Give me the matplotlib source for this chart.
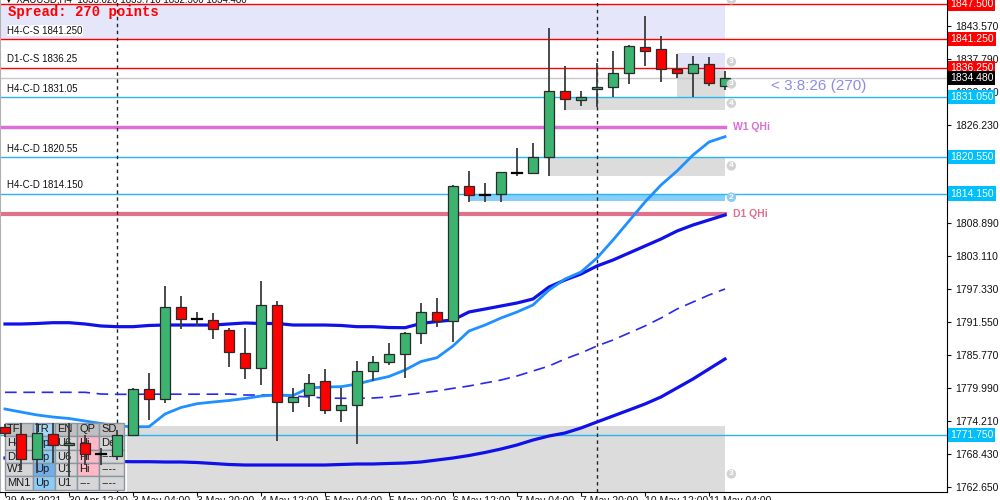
import matplotlib
matplotlib.use("Agg")
import matplotlib.pyplot as plt
from matplotlib.patches import Rectangle

plt.rcParams["font.family"] = ["Liberation Sans", "DejaVu Sans"]

# XAUUSD H4 bars
opens = [1773.14, 1771.91, 1767.52, 1771.91, 1769.98, 1770.33, 1768.45, 1768.04, 1771.73, 1779.81,
         1778.00, 1794.27, 1792.11, 1791.93, 1790.18, 1786.19, 1783.55, 1794.57, 1777.53, 1778.71,
         1781.17, 1776.12, 1776.95, 1782.92, 1784.50, 1785.91, 1789.70, 1793.34, 1791.81, 1815.47,
         1813.89, 1814.01, 1817.81, 1817.81, 1820.62, 1832.16, 1830.57, 1832.45, 1832.81, 1835.27,
         1839.83, 1839.48, 1835.97, 1835.27, 1836.85, 1833.02]
highs = [1773.67, 1773.84, 1773.84, 1773.84, 1773.84, 1771.73, 1769.45, 1772.61, 1779.99, 1782.62,
         1797.90, 1796.15, 1793.39, 1793.16, 1790.53, 1790.53, 1798.83, 1795.32, 1779.99, 1782.45,
         1783.27, 1780.04, 1784.78, 1785.61, 1787.95, 1789.88, 1794.87, 1795.74, 1815.65, 1818.10,
         1816.05, 1817.93, 1822.20, 1823.07, 1843.17, 1836.55, 1832.21, 1837.13, 1839.18, 1840.24,
         1845.33, 1841.82, 1838.65, 1838.30, 1838.18, 1835.71]
lows = [1771.38, 1765.58, 1765.06, 1766.81, 1764.36, 1766.46, 1766.46, 1767.34, 1771.56, 1774.37,
        1777.41, 1790.35, 1790.88, 1788.60, 1783.73, 1781.57, 1780.52, 1770.73, 1775.83, 1776.60,
        1775.37, 1774.07, 1770.15, 1781.27, 1784.03, 1781.69, 1787.72, 1790.65, 1788.12, 1812.71,
        1812.71, 1812.71, 1817.23, 1817.70, 1817.23, 1828.82, 1829.52, 1829.29, 1831.05, 1833.33,
        1836.60, 1833.79, 1834.49, 1831.15, 1833.03, 1832.30]
closes = [1772.08, 1767.52, 1772.08, 1769.98, 1770.25, 1768.39, 1768.45, 1771.73, 1779.76, 1778.06,
          1794.27, 1792.11, 1792.11, 1790.30, 1786.31, 1783.55, 1794.57, 1777.53, 1778.46, 1780.92,
          1776.12, 1776.95, 1782.92, 1784.50, 1785.91, 1789.70, 1793.34, 1791.81, 1815.47, 1813.89,
          1813.89, 1817.88, 1817.81, 1820.51, 1832.16, 1830.70, 1831.05, 1832.81, 1835.27, 1840.06,
          1839.23, 1835.97, 1835.27, 1836.85, 1833.51, 1834.48]

# indicator lines
ma_upper = [1791.23, 1791.23, 1791.32, 1791.46, 1791.46, 1791.23, 1790.88, 1790.76, 1790.76, 1790.97,
            1791.05, 1791.05, 1791.05, 1791.05, 1791.23, 1791.41, 1791.32, 1791.32, 1791.05, 1791.05,
            1791.05, 1790.97, 1790.76, 1790.76, 1790.61, 1790.58, 1791.32, 1791.67, 1791.93, 1793.34,
            1793.86, 1794.39, 1794.92, 1795.62, 1797.73, 1798.96, 1800.01, 1801.42, 1802.47, 1803.70,
            1804.93, 1806.16, 1807.56, 1808.62, 1809.50, 1810.38]
ma_fast = [1776.30, 1775.77, 1775.25, 1774.89, 1774.63, 1774.19, 1773.75, 1773.31, 1773.19, 1773.19,
           1775.42, 1776.56, 1777.23, 1777.53, 1777.79, 1778.14, 1778.58, 1778.76, 1778.67, 1779.99,
           1780.16, 1780.22, 1780.69, 1781.39, 1782.01, 1783.15, 1784.64, 1785.31, 1787.37, 1790.00,
           1791.05, 1792.28, 1793.34, 1794.57, 1797.20, 1799.13, 1800.36, 1802.82, 1805.98, 1809.32,
           1812.66, 1815.64, 1818.10, 1820.91, 1823.20, 1824.13]
ma_mid = [1779.23, 1779.23, 1779.23, 1779.23, 1779.23, 1779.23, 1778.93, 1778.88, 1778.88, 1778.90,
          1778.90, 1778.90, 1778.90, 1778.90, 1778.93, 1778.76, 1778.76, 1778.76, 1778.58, 1778.41,
          1778.23, 1778.18, 1778.18, 1778.23, 1778.41, 1778.76, 1779.11, 1779.46, 1779.93, 1780.34,
          1780.87, 1781.39, 1782.10, 1782.97, 1783.85, 1785.08, 1786.14, 1787.37, 1788.42, 1789.65,
          1790.88, 1792.28, 1793.86, 1795.09, 1796.32, 1797.38]
ma_lower = [1767.69, 1767.69, 1767.52, 1767.52, 1767.34, 1767.34, 1767.17, 1767.08, 1767.04, 1767.04,
            1766.99, 1766.99, 1766.90, 1766.73, 1766.55, 1766.46, 1766.46, 1766.46, 1766.46, 1766.46,
            1766.46, 1766.55, 1766.64, 1766.64, 1766.73, 1766.81, 1766.99, 1767.34, 1767.69, 1768.13,
            1768.66, 1769.27, 1769.98, 1770.85, 1771.56, 1772.08, 1772.96, 1774.02, 1775.07, 1776.12,
            1777.18, 1778.41, 1779.99, 1781.57, 1783.33, 1785.08]

time_labels = ["29 Apr 2021", "30 Apr 12:00", "3 May 04:00", "3 May 20:00", "4 May 12:00",
               "5 May 04:00", "5 May 20:00", "6 May 12:00", "7 May 04:00", "7 May 20:00",
               "10 May 12:00", "11 May 04:00"]
price_ticks = [1762.65, 1768.43, 1774.21, 1779.99, 1785.77, 1791.55, 1797.33, 1803.11, 1808.89,
               1826.23, 1832.01, 1837.79, 1843.57]
week_breaks = [7, 37]

red_levels = [1847.50, 1841.25, 1836.25]
blue_levels = [1831.05, 1820.55, 1814.15, 1771.75]
bid = 1834.48
w1_qhi = 1825.83
d1_qhi = 1810.55

# zones: start bar, low, high, colour, tag, tag price
zones = [
    (-0.4, 1841.25, 1847.50, "#E6E6FA", "3", 1848.2),
    (42, 1835.67, 1838.83, "#E2E2F8", "3", 1837.3),
    (42, 1831.10, 1835.67, "#DCDCDC", "3", 1833.4),
    (35, 1828.82, 1831.05, "#DCDCDC", "4", 1830.0),
    (34, 1817.28, 1820.55, "#DCDCDC", "4", 1819.0),
    (29, 1812.83, 1814.15, "#87CEFA", "2", 1813.5),
    (7.6, 1755.00, 1773.31, "#DCDCDC", "3", 1764.9),
]
zone_end = 45

left_labels = [("H4-C-S 1841.250", 1841.25), ("D1-C-S 1836.25", 1836.25),
               ("H4-C-D 1831.05", 1831.05), ("H4-C-D 1820.55", 1820.55),
               ("H4-C-D 1814.150", 1814.15)]
right_labels = [(1847.50, "red"), (1841.25, "red"), (1836.25, "red"), (1834.48, "black"),
                (1831.05, "#00BFFF"), (1820.55, "#00BFFF"), (1814.15, "#00BFFF"),
                (1771.75, "#00BFFF")]

table_rows = [["TF", "TR", "EN", "QP", "SD"],
              ["H4", "Up", "U6", "Hi", "Dec"],
              ["D1", "Up", "U6", "Hi", "----"],
              ["W1", "Up", "U1", "Hi", "----"],
              ["MN1", "Up", "U1", "---", "----"]]
table_colors = [["#C0C0C0", "#A6D6F2", "#C0C0C0", "#C0C0C0", "#C0C0C0"],
                ["#D6D6D6", "#8CCDF5", "#D6D6D6", "#FFB8C4", "#D6D6D6"],
                ["#D6D6D6", "#8CCDF5", "#D6D6D6", "#FFB8C4", "#D6D6D6"],
                ["#D6D6D6", "#72AEEA", "#D6D6D6", "#FFB8C4", "#D6D6D6"],
                ["#D6D6D6", "#8CCDF5", "#D6D6D6", "#D6D6D6", "#D6D6D6"]]

fig = plt.figure(figsize=(10, 5), dpi=100)
W, H = 947.0, 492.0
ax = fig.add_axes([0, 8 / 500, W / 1000, H / 500])
ax.set_xlim(-0.3125, 58.875)
ax.set_ylim(1761.72, 1848.14)

n = len(opens)
xs = list(range(n))

# zones
for x0, lo, hi, col, tag, ty in zones:
    ax.add_patch(Rectangle((x0, lo), zone_end - x0, hi - lo, facecolor=col, edgecolor="none", zorder=1))
    fc = "#8CCBF2" if tag == "2" else "#D2D2D2"
    ax.text(zone_end + 0.4, ty, tag, color="white", fontsize=6, fontweight="bold", ha="center",
            va="center", zorder=6, clip_on=False,
            bbox=dict(boxstyle="circle,pad=0.15", fc=fc, ec="none"))

# level lines
for lv in red_levels:
    ax.axhline(lv, color="red", lw=1, zorder=2)
for lv in blue_levels:
    ax.axhline(lv, color="#29B6F0", lw=1, zorder=2)
ax.axhline(bid, color="#C8C8C8", lw=1, zorder=2)
ax.plot([-0.4, zone_end], [w1_qhi, w1_qhi], color="#DA70D6", lw=2.5, zorder=2)
ax.plot([-0.4, zone_end], [d1_qhi, d1_qhi], color="#E0708C", lw=3, zorder=2)
ax.text(45.5, w1_qhi, "W1 QHi", color="#DA70D6", fontsize=7.5, fontweight="bold", va="center", zorder=6)
ax.text(45.5, d1_qhi, "D1 QHi", color="#E0708C", fontsize=7.5, fontweight="bold", va="center", zorder=6)

for wb in week_breaks:
    ax.axvline(wb, color="#222222", lw=1, ls=(0, (2.5, 2.5)), zorder=2)

# moving averages
ax.plot(xs, ma_upper, color="#1010E8", lw=2.3, zorder=3)
ax.plot(xs, ma_lower, color="#1010E8", lw=2.3, zorder=3)
ax.plot(xs, ma_mid, color="#2828F0", lw=1.2, ls=(0, (7, 4)), zorder=3)
ax.plot(xs, ma_fast, color="#1E90FF", lw=2, zorder=3)

# info table (screen-fixed panel, axes-fraction coords)
col_edges = [5, 33, 55, 77, 99, 124]
row_edges = [423, 436, 450, 463, 476, 490]
for r, row in enumerate(table_rows):
    for c, txt in enumerate(row):
        x0 = col_edges[c] / W
        x1 = col_edges[c + 1] / W
        y0 = 1 - row_edges[r + 1] / H
        y1 = 1 - row_edges[r] / H
        ax.add_patch(Rectangle((x0, y0), x1 - x0, y1 - y0, transform=ax.transAxes,
                               facecolor=table_colors[r][c], edgecolor="#8A96A4", lw=1, zorder=4))
        ax.text(x0 + 2 / W, (y0 + y1) / 2, txt, transform=ax.transAxes, fontsize=8,
                color="#1A1A1A", va="center", ha="left", zorder=4.1)

# candles
bw = 0.66
for i in xs:
    o, h, l, c = opens[i], highs[i], lows[i], closes[i]
    ax.plot([i, i], [l, h], color="#3C3C3C", lw=1.3, zorder=5, solid_capstyle="butt")
    if abs(c - o) < 0.05:
        ax.plot([i - bw / 2, i + bw / 2], [o, o], color="black", lw=1.6, zorder=5.2)
        continue
    col = "#3CB371" if c > o else "#FF0000"
    ax.add_patch(Rectangle((i - bw / 2, min(o, c)), bw, abs(c - o), facecolor=col,
                           edgecolor="#2A2A2A", lw=0.9, zorder=5.1))

# left level labels
for txt, lv in left_labels:
    ax.annotate(txt, xy=(0.13, lv), xytext=(0, 2.5), textcoords="offset points", fontsize=7,
                va="bottom", ha="left", color="#111111", zorder=6,
                bbox=dict(boxstyle="square,pad=0.05", fc="white", ec="none"))

ax.text(0.2, 1846.0, "Spread: 270 points", color="red", fontsize=10, fontweight="bold",
        family="Liberation Mono", va="center", ha="left", zorder=6)
ax.text(47.9, 1833.03, "< 3:8:26 (270)", color="#8C8CE6", fontsize=11, va="center",
        ha="left", zorder=6)
fig.text(0.004, 1.0, "\u25bc XAUUSD,H4  1833.020 1835.710 1832.300 1834.480", fontsize=7,
         va="center", ha="left", color="#111111", family=["Liberation Sans", "DejaVu Sans"])

# axes styling
ax.spines["top"].set_visible(False)
ax.spines["left"].set_color("#B0B0B0")
ax.spines["right"].set_color("black")
ax.spines["bottom"].set_color("black")
ax.yaxis.tick_right()
ax.set_yticks(price_ticks)
ax.set_yticklabels(["%.3f" % p for p in price_ticks])
ax.tick_params(axis="y", labelsize=7.5, length=3, pad=3, colors="#111111")
ax.set_xticks(list(range(0, n, 4)))
ax.set_xticklabels(time_labels)
ax.tick_params(axis="x", labelsize=7.5, length=3, pad=0, colors="#111111")
for lab in ax.get_xticklabels():
    lab.set_ha("left")

ytf = ax.get_yaxis_transform()
for lv, col in right_labels:
    ax.text(1.003, lv, "%.3f" % lv, transform=ytf, color="white", fontsize=7.5, va="center",
            ha="left", zorder=7, clip_on=False,
            bbox=dict(boxstyle="square,pad=0.2", fc=col, ec="none"))

fig.savefig("out.png", dpi=100)
